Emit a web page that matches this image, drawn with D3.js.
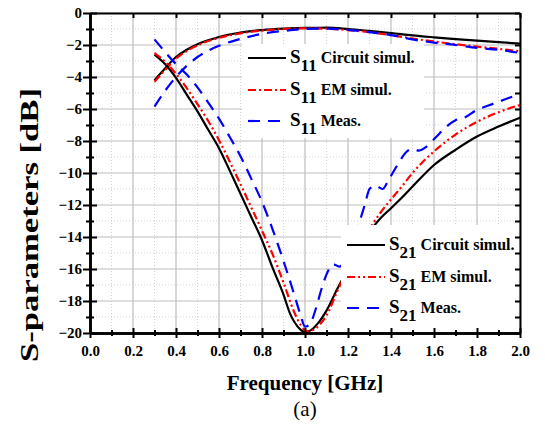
<!DOCTYPE html>
<html>
<head>
<meta charset="utf-8">
<script src="https://d3js.org/d3.v7.min.js"></script>
<style>
body{margin:0;background:#fff;}
</style>
</head>
<body>
<div class="chart"></div>
<script>
// values (GHz, dB)
let s11CircuitFreq = [0.30,0.35,0.40,0.45,0.50,0.60,0.70,0.80,0.90,1.00,1.10,1.20,1.30,1.40,1.50,1.60,1.70,1.80,1.90,2.00];
let s11CircuitDb   = [-4.2,-3.45,-2.75,-2.3,-1.95,-1.5,-1.22,-1.07,-0.98,-0.93,-0.92,-1.0,-1.12,-1.25,-1.4,-1.52,-1.63,-1.73,-1.82,-1.92];
let s11EmFreq = [0.30,0.35,0.40,0.45,0.50,0.60,0.70,0.80,0.90,1.00,1.10,1.20,1.30,1.40,1.50,1.60,1.70,1.80,1.90,2.00];
let s11EmDb   = [-4.3,-3.55,-2.85,-2.38,-2.02,-1.55,-1.27,-1.1,-1.0,-0.96,-0.98,-1.07,-1.2,-1.38,-1.6,-1.78,-1.95,-2.1,-2.24,-2.4];
let s11MeasFreq = [0.30,0.35,0.40,0.45,0.50,0.55,0.60,0.70,0.80,0.90,1.00,1.10,1.20,1.30,1.40,1.50,1.60,1.70,1.80,1.90,2.00];
let s11MeasDb   = [-5.85,-4.85,-4.0,-3.3,-2.75,-2.35,-2.05,-1.62,-1.3,-1.12,-1.0,-0.98,-1.05,-1.2,-1.38,-1.65,-1.85,-2.0,-2.18,-2.3,-2.5];

let s21CircuitFreq = [0.30,0.35,0.40,0.45,0.50,0.55,0.60,0.65,0.70,0.75,0.80,0.85,0.90,0.93,0.95,0.98,1.00,1.03,1.06,1.10,1.15,1.20,1.25,1.30,1.35,1.40,1.45,1.50,1.60,1.70,1.80,1.90,2.00];
let s21CircuitDb   = [-2.6,-3.2,-4.05,-5.1,-6.15,-7.3,-8.45,-9.85,-11.3,-12.75,-14.2,-15.95,-17.6,-18.77,-19.3,-19.8,-19.95,-19.8,-19.4,-18.6,-17.25,-16.0,-14.9,-13.7,-12.85,-12.2,-11.55,-10.85,-9.5,-8.55,-7.72,-7.1,-6.54];
let s21EmFreq = [0.30,0.35,0.40,0.45,0.50,0.55,0.60,0.65,0.70,0.75,0.80,0.85,0.90,0.95,0.98,1.01,1.04,1.07,1.10,1.15,1.20,1.25,1.30,1.35,1.40,1.45,1.50,1.60,1.70,1.80,1.90,2.00];
let s21EmDb   = [-2.5,-3.05,-3.8,-4.7,-5.7,-6.75,-7.95,-9.3,-10.7,-12.15,-13.6,-15.1,-16.85,-18.7,-19.5,-19.9,-19.8,-19.45,-18.9,-17.4,-16.0,-14.7,-13.5,-12.5,-11.65,-10.85,-10.0,-8.65,-7.6,-6.8,-6.2,-5.75];
let s21MeasFreq = [0.30,0.35,0.40,0.45,0.50,0.55,0.60,0.65,0.70,0.75,0.80,0.85,0.90,0.95,0.98,1.00,1.02,1.05,1.08,1.11,1.13,1.16,1.20,1.25,1.28,1.30,1.33,1.36,1.39,1.43,1.47,1.50,1.53,1.56,1.61,1.65,1.70,1.74,1.80,1.85,1.90,1.95,2.00];
let s21MeasDb   = [-1.65,-2.45,-3.2,-3.85,-4.65,-5.6,-6.6,-7.75,-8.95,-10.35,-11.8,-13.55,-15.5,-17.6,-18.9,-19.6,-19.5,-18.5,-17.1,-16.05,-15.7,-15.85,-15.0,-13.2,-11.9,-11.0,-10.8,-11.0,-10.4,-9.5,-8.7,-8.5,-8.6,-8.4,-7.75,-7.2,-6.7,-6.55,-6.05,-5.8,-5.55,-5.3,-5.05];

let xMajorTicks = [0,0.2,0.4,0.6,0.8,1.0,1.2,1.4,1.6,1.8,2.0];
let xMinorTicks = [0.1,0.3,0.5,0.7,0.9,1.1,1.3,1.5,1.7,1.9];
let yMajorTicks = [0,-2,-4,-6,-8,-10,-12,-14,-16,-18,-20];
let yMinorTicks = [-1,-3,-5,-7,-9,-11,-13,-15,-17,-19];

let width = 545, height = 427;
let plotLeft = 90, plotRight = 520, plotTop = 13, plotBottom = 333;
let serif = "Liberation Serif, Tinos, DejaVu Serif, Noto Serif, Times New Roman, serif";

let svg = d3.select(".chart").append("svg")
    .attr("width", width).attr("height", height)
    .style("font-family", serif);
svg.append("rect").attr("width", width).attr("height", height).attr("fill", "#fff");

let x = d3.scaleLinear().domain([0, 2]).range([plotLeft, plotRight]);
let y = d3.scaleLinear().domain([-20, 0]).range([plotBottom, plotTop]);

// grid
let grid = svg.append("g");
grid.selectAll(".vmin").data(xMinorTicks).enter().append("line")
    .attr("x1", d => x(d)).attr("x2", d => x(d)).attr("y1", plotTop).attr("y2", plotBottom)
    .attr("stroke", "#d4d4d4").attr("stroke-dasharray", "1,2");
grid.selectAll(".hmin").data(yMinorTicks).enter().append("line")
    .attr("y1", d => y(d)).attr("y2", d => y(d)).attr("x1", plotLeft).attr("x2", plotRight)
    .attr("stroke", "#d4d4d4").attr("stroke-dasharray", "1,2");
grid.selectAll(".vmaj").data(xMajorTicks).enter().append("line")
    .attr("x1", d => x(d)).attr("x2", d => x(d)).attr("y1", plotTop).attr("y2", plotBottom)
    .attr("stroke", "#bdbdbd").attr("stroke-width", 1.2);
grid.selectAll(".hmaj").data(yMajorTicks).enter().append("line")
    .attr("y1", d => y(d)).attr("y2", d => y(d)).attr("x1", plotLeft).attr("x2", plotRight)
    .attr("stroke", "#bdbdbd").attr("stroke-width", 1.2);

// curves
let line = d3.line().x(d => x(d[0])).y(d => y(d[1])).curve(d3.curveMonotoneX);
let series = [
    {f: s11CircuitFreq, v: s11CircuitDb, color: "#000", dash: null},
    {f: s11EmFreq, v: s11EmDb, color: "#ff0000", dash: "8,3,2,3"},
    {f: s11MeasFreq, v: s11MeasDb, color: "#0000ff", dash: "12,8"},
    {f: s21CircuitFreq, v: s21CircuitDb, color: "#000", dash: null},
    {f: s21EmFreq, v: s21EmDb, color: "#ff0000", dash: "8,3,2,3,2,3"},
    {f: s21MeasFreq, v: s21MeasDb, color: "#0000ff", dash: "12,8"}
];
series.forEach(function(s){
    svg.append("path")
        .datum(s.f.map((f, i) => [f, s.v[i]]))
        .attr("d", line)
        .attr("fill", "none")
        .attr("stroke", s.color)
        .attr("stroke-width", 2.2)
        .attr("stroke-dasharray", s.dash);
});

// legends
function legend(gx, gy, w, h, lineX, rowY, sub, items){
    let g = svg.append("g");
    g.append("rect").attr("x", gx).attr("y", gy).attr("width", w).attr("height", h).attr("fill", "#fff");
    items.forEach(function(it, i){
        let ly = rowY[i];
        g.append("line").attr("x1", lineX).attr("x2", lineX + 38).attr("y1", ly).attr("y2", ly)
            .attr("stroke", it.color).attr("stroke-width", 2.2).attr("stroke-dasharray", it.dash);
        let t = g.append("text").attr("x", lineX + 42).attr("y", ly + 5)
            .style("font-family", serif).attr("font-weight", "bold").attr("fill", "#000");
        t.append("tspan").attr("font-size", "19px").text("S");
        t.append("tspan").attr("font-size", "17px").attr("dy", 8).text(sub);
        t.append("tspan").attr("font-size", "16px").attr("dy", -8).attr("dx", 4).text(it.label);
    });
}
legend(242, 44, 182, 94, 248, [58, 90, 121], "11", [
    {color: "#000", dash: null, label: "Circuit simul."},
    {color: "#ff0000", dash: "8,3,2,3", label: "EM  simul."},
    {color: "#0000ff", dash: "12,8", label: "Meas."}
]);
legend(341, 225, 178, 107, 347, [245, 277, 308], "21", [
    {color: "#000", dash: null, label: "Circuit simul."},
    {color: "#ff0000", dash: "8,3,2,3,2,3", label: "EM simul."},
    {color: "#0000ff", dash: "12,8", label: "Meas."}
]);

// axes
function styleAxis(g){
    g.attr("font-size", 15).attr("font-weight", "bold").style("font-family", serif);
    g.selectAll("path, line").attr("stroke", "#000").attr("stroke-width", 2);
    g.selectAll("text").attr("fill", "#000").style("font-family", serif);
}
let fmtX = d3.format(".1f");
svg.append("g").attr("transform", `translate(0,${plotBottom})`)
    .call(d3.axisBottom(x).tickValues(xMajorTicks).tickSize(5).tickSizeOuter(0).tickPadding(7).tickFormat(fmtX)).call(styleAxis);
svg.append("g").attr("transform", `translate(0,${plotBottom})`)
    .call(d3.axisTop(x).tickValues(xMajorTicks).tickSize(5).tickSizeOuter(0).tickFormat("")).call(styleAxis);
svg.append("g").attr("transform", `translate(0,${plotBottom})`)
    .call(d3.axisBottom(x).tickValues(xMinorTicks).tickSize(3).tickSizeOuter(0).tickFormat("")).call(styleAxis);
svg.append("g").attr("transform", `translate(0,${plotBottom})`)
    .call(d3.axisTop(x).tickValues(xMinorTicks).tickSize(3).tickSizeOuter(0).tickFormat("")).call(styleAxis);
svg.append("g").attr("transform", `translate(0,${plotTop})`)
    .call(d3.axisBottom(x).tickValues(xMajorTicks).tickSize(5).tickSizeOuter(0).tickFormat("")).call(styleAxis);

svg.append("g").attr("transform", `translate(${plotLeft},0)`)
    .call(d3.axisLeft(y).tickValues(yMajorTicks).tickSize(7).tickSizeOuter(0).tickPadding(1).tickFormat(d3.format("d"))).call(styleAxis);
svg.append("g").attr("transform", `translate(${plotLeft},0)`)
    .call(d3.axisRight(y).tickValues(yMajorTicks).tickSize(7).tickSizeOuter(0).tickFormat("")).call(styleAxis);
svg.append("g").attr("transform", `translate(${plotLeft},0)`)
    .call(d3.axisLeft(y).tickValues(yMinorTicks).tickSize(4).tickSizeOuter(0).tickFormat("")).call(styleAxis);
svg.append("g").attr("transform", `translate(${plotLeft},0)`)
    .call(d3.axisRight(y).tickValues(yMinorTicks).tickSize(4).tickSizeOuter(0).tickFormat("")).call(styleAxis);
svg.append("g").attr("transform", `translate(${plotRight},0)`)
    .call(d3.axisLeft(y).tickValues(yMajorTicks.concat(yMinorTicks)).tickSize(5).tickSizeOuter(0).tickFormat("")).call(styleAxis);

// titles
svg.append("text").attr("x", 305).attr("y", 390).attr("text-anchor", "middle").style("font-family", serif)
    .attr("font-weight", "bold").attr("font-size", "21px").text("Frequency [GHz]");
svg.append("text").attr("x", 305).attr("y", 416).attr("text-anchor", "middle").style("font-family", serif)
    .attr("font-size", "21px").text("(a)");
svg.append("text").attr("transform", "translate(38,225) rotate(-90)").attr("text-anchor", "middle").style("font-family", serif)
    .attr("font-weight", "bold").attr("font-size", "25px")
    .attr("textLength", 274).attr("lengthAdjust", "spacingAndGlyphs").text("S-parameters [dB]");
</script>
</body>
</html>
